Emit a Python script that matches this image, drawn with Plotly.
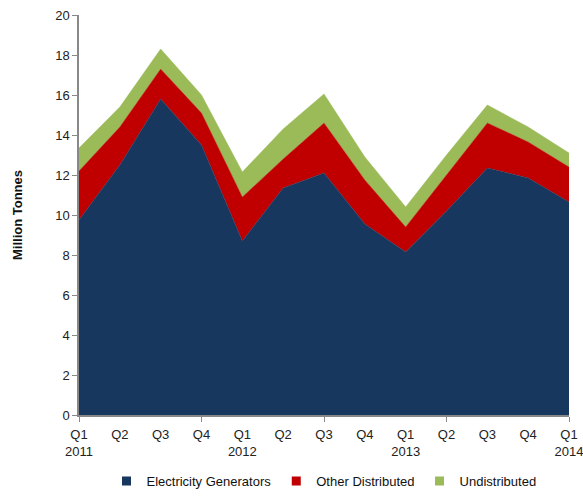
import plotly.graph_objects as go

quarters = ["Q1<br>2011", "Q2", "Q3", "Q4", "Q1<br>2012", "Q2", "Q3", "Q4",
            "Q1<br>2013", "Q2", "Q3", "Q4", "Q1<br>2014"]
electricity_generators = [9.75, 12.5, 15.8, 13.5, 8.7, 11.35, 12.1, 9.55, 8.15, 10.2, 12.35, 11.85, 10.65]
other_distributed = [2.45, 1.9, 1.5, 1.6, 2.2, 1.45, 2.5, 2.2, 1.25, 1.8, 2.25, 1.8, 1.75]
undistributed = [1.15, 1.0, 1.0, 0.9, 1.25, 1.5, 1.45, 1.15, 1.0, 1.0, 0.9, 0.75, 0.7]

x = list(range(len(quarters)))
font_family = "Liberation Sans, Arial, sans-serif"

fig = go.Figure()
series = [
    ("Electricity Generators", electricity_generators, "#17375E"),
    ("Other Distributed", other_distributed, "#C00000"),
    ("Undistributed", undistributed, "#9BBB59"),
]
for name, vals, color in series:
    fig.add_trace(go.Scatter(
        x=x, y=vals, name=name, mode="lines", stackgroup="one",
        line=dict(width=0.5, color=color), fillcolor=color,
        hoverinfo="skip", showlegend=False,
    ))
# legend entries as small squares
for name, vals, color in series:
    fig.add_trace(go.Scatter(
        x=[None], y=[None], name=name, mode="markers",
        marker=dict(symbol="square", size=9, color=color),
        showlegend=True,
    ))

fig.update_layout(
    width=583, height=496,
    margin=dict(l=79, r=14, t=15, b=81, autoexpand=False),
    paper_bgcolor="white", plot_bgcolor="white",
    font=dict(family=font_family, size=13, color="#222222"),
    showlegend=True,
    legend=dict(orientation="h", x=0.5, xanchor="center",
                yref="container", y=0.0, yanchor="bottom",
                font=dict(size=13, color="#111111"), traceorder="normal",
                bgcolor="rgba(0,0,0,0)"),
    xaxis=dict(
        range=[0, 12], tickmode="array", tickvals=x, ticktext=quarters,
        showgrid=False, zeroline=False, showline=True, linecolor="#888888", linewidth=1.5,
        ticks="outside", ticklen=7, tickcolor="rgba(0,0,0,0)",
        tickfont=dict(size=13, color="#222222"), ticklabeloverflow="allow",
        minor=dict(ticks="outside", tick0=0, dtick=3, ticklen=5, tickcolor="#888888", tickwidth=1, showgrid=False),
        automargin=False, fixedrange=True,
    ),
    yaxis=dict(
        range=[0, 20], dtick=2, showgrid=False, zeroline=False,
        showline=True, linecolor="#888888", linewidth=1.5,
        ticks="outside", ticklen=5, tickcolor="#888888",
        tickfont=dict(size=13, color="#222222"), ticklabeloverflow="allow",
        automargin=False, fixedrange=True,
    ),
    annotations=[dict(
        text="<b>Million Tonnes</b>", xref="paper", yref="paper",
        x=-0.1265, y=0.5, xanchor="center", yanchor="middle", textangle=-90,
        showarrow=False, font=dict(size=13, color="#111111"),
    )],
)

fig.write_html("out.html", config={"displayModeBar": False},
               post_script="document.body.style.margin='0';")
